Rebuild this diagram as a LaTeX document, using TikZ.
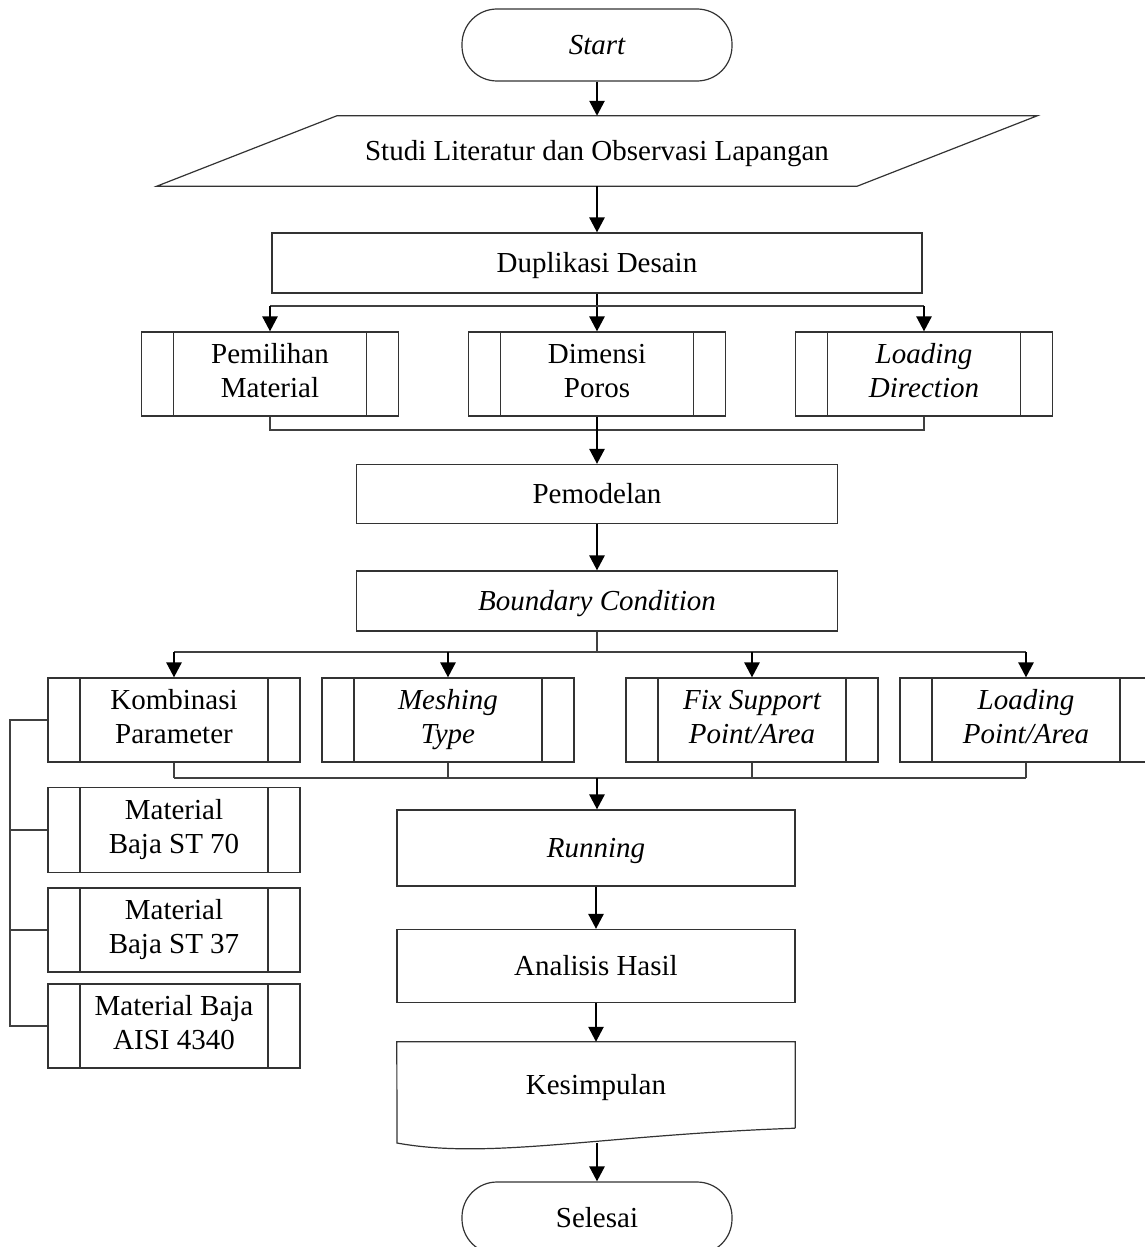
\documentclass[tikz,border=0pt]{standalone}
\usepackage{fontspec}
\setmainfont{Liberation Serif}
\usepackage{tikz}
\usetikzlibrary{arrows.meta, shapes.geometric, positioning}
\newcommand{\flowfont}{\fontsize{29}{34}\selectfont}
\newcommand{\flowstrut}{\rule[-6.5pt]{0pt}{32.5pt}}
\newcommand{\topstrut}{\rule[-6.5pt]{0pt}{44.5pt}}

\begin{document}
\begin{tikzpicture}[x=1pt, y=-1pt, font=\flowfont,
    arr/.style={-{Triangle[length=15pt, width=15pt]}, line width=2.6pt},
    line/.style={draw=black!75, line width=1.4pt},
    boxline/.style={draw=black!80, line width=1.2pt},
    txt/.style={align=center, inner sep=0pt, execute at begin node=\flowstrut, execute at end node=\flowstrut},
    terminal/.style={boxline, txt, rounded corners=35pt, minimum width=270pt, minimum height=72pt},
    proc/.style={boxline, txt, minimum width=#1, minimum height=60pt},
    subproc/.style={boxline, txt, execute at begin node=\topstrut, minimum width=252pt, minimum height=84pt,
        path picture={\draw[black!80, line width=1.2pt]
            ([xshift=32pt]path picture bounding box.north west) -- ([xshift=32pt]path picture bounding box.south west)
            ([xshift=-32pt]path picture bounding box.north east) -- ([xshift=-32pt]path picture bounding box.south east);}}
]
    \useasboundingbox (0,0) rectangle (1144,1247);

    % Coordinates
    \coordinate (br1) at (597,306);
    \coordinate (mg1) at (597,430);
    \coordinate (br2) at (597,652);
    \coordinate (mg2) at (597,778);
    \coordinate (bx) at (10,720);
    \coordinate (kes-wave) at (597,1143);

    % Start
    \node[terminal] (start) at (597,45) {\itshape Start};
    % Studi literatur
    \node[txt, minimum width=700pt, minimum height=70pt] (studi) at (597,151) {Studi Literatur dan Observasi Lapangan};
    \draw[boxline] ([xshift=90pt]studi.north west) -- ([xshift=90pt]studi.north east)
        -- ([xshift=-90pt]studi.south east) -- ([xshift=-90pt]studi.south west) -- cycle;
    % Duplikasi
    \node[proc=650pt] (dup) at (597,263) {Duplikasi Desain};

    % Sub proses 1
    \node[subproc, minimum width=257pt] (mat) at (270,374) {Pemilihan\\Material};
    \node[subproc, minimum width=257pt] (dim) at (597,374) {Dimensi\\Poros};
    \node[subproc, minimum width=257pt] (loaddir) at (924,374) {\itshape Loading\\\itshape Direction};

    % Pemodelan
    \node[proc=481pt, minimum height=59pt] (model) at (597,494) {Pemodelan};
    \node[proc=481pt] (bc) at (597,601) {\itshape Boundary Condition};

    % Sub proses 2
    \node[subproc] (komb) at (174,720) {Kombinasi\\Parameter};
    \node[subproc] (mesh) at (448,720) {\itshape Meshing\\\itshape Type};
    \node[subproc] (fix) at (752,720) {\itshape Fix Support\\\itshape Point/Area};
    \node[subproc] (loadpt) at (1026,720) {\itshape Loading\\\itshape Point/Area};

    % Material
    \node[subproc, minimum height=85pt] (st70) at (174,830) {Material\\Baja ST 70};
    \node[subproc] (st37) at (174,930) {Material\\Baja ST 37};
    \node[subproc] (aisi) at (174,1026) {Material Baja\\AISI 4340};

    % Running sampai selesai
    \node[proc=398pt, minimum height=76pt] (run) at (596,848) {\itshape Running};
    \node[proc=398pt, minimum height=73pt] (anal) at (596,966) {Analisis Hasil};
    \node[txt, minimum width=398pt, minimum height=86pt] (kes) at (596,1085) {Kesimpulan};
    \draw[boxline] (kes.south east) -- (kes.north east) -- (kes.north west) -- (397,1143)
        .. controls (490,1160) and (600,1135) .. (kes.south east);
    \node[terminal] (selesai) at (597,1218) {Selesai};

    % Arrows
    \draw[arr] (start) -- (studi);
    \draw[arr] (studi) -- (dup);
    \draw[arr] (dup) -- (dim);
    \draw[line] (br1 -| mat.north) -- (br1 -| loaddir.north);
    \draw[arr] (br1 -| mat.north) -- (mat.north);
    \draw[arr] (br1 -| loaddir.north) -- (loaddir.north);
    \draw[line] (mat.south) |- (mg1) -| (loaddir.south);
    \draw[arr] (dim) -- (model);
    \draw[arr] (model) -- (bc);

    \draw[line] (bc.south) -- (br2);
    \draw[line] (br2 -| komb.north) -- (br2 -| loadpt.north);
    \foreach \n in {komb, mesh, fix, loadpt}
        \draw[arr] (br2 -| \n.north) -- (\n.north);
    \foreach \n in {komb, mesh, fix, loadpt}
        \draw[line] (\n.south) -- (mg2 -| \n.south);
    \draw[line] (mg2 -| komb.south) -- (mg2 -| loadpt.south);
    \draw[arr] (mg2) -- (mg2 |- run.north);

    % Kurung kiri
    \draw[line] (komb.west) -| (bx |- aisi.west) -- (aisi.west);
    \draw[line] (st70.west) -- (st70.west -| bx);
    \draw[line] (st37.west) -- (st37.west -| bx);

    \draw[arr] (run) -- (anal);
    \draw[arr] (anal) -- (kes);
    \draw[arr] (kes-wave) -- (selesai.north);
\end{tikzpicture}
\end{document}
